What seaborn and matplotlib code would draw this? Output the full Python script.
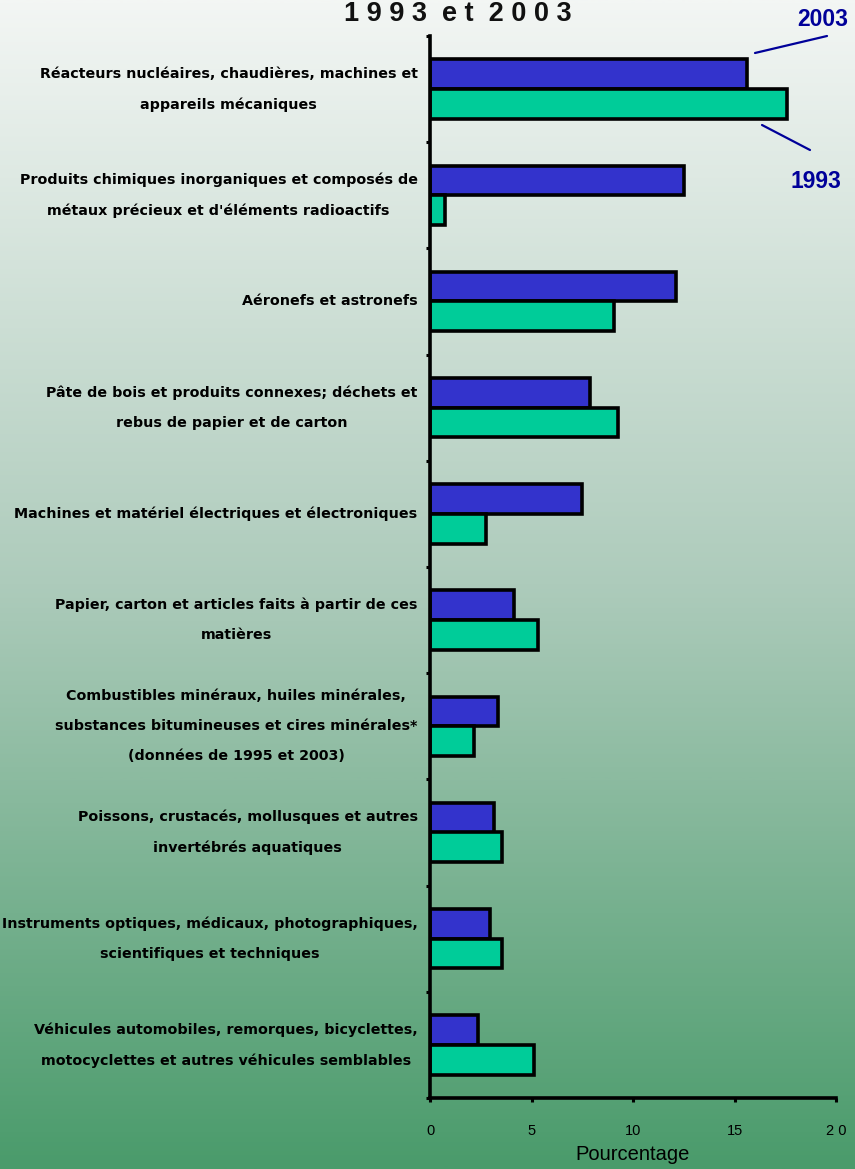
import numpy as np
import pandas as pd
import matplotlib
matplotlib.use("Agg")
import matplotlib.pyplot as plt
import seaborn as sns
from matplotlib.colors import LinearSegmentedColormap
from matplotlib.lines import Line2D

categories = [
    "Réacteurs nucléaires, chaudières, machines et\nappareils mécaniques",
    "Produits chimiques inorganiques et composés de\nmétaux précieux et d'éléments radioactifs",
    "Aéronefs et astronefs",
    "Pâte de bois et produits connexes; déchets et\nrebus de papier et de carton",
    "Machines et matériel électriques et électroniques",
    "Papier, carton et articles faits à partir de ces\nmatières",
    "Combustibles minéraux, huiles minérales,\nsubstances bitumineuses et cires minérales*\n(données de 1995 et 2003)",
    "Poissons, crustacés, mollusques et autres\ninvertébrés aquatiques",
    "Instruments optiques, médicaux, photographiques,\nscientifiques et techniques",
    "Véhicules automobiles, remorques, bicyclettes,\nmotocyclettes et autres véhicules semblables",
]
values_2003 = [15.6, 12.5, 12.1, 7.9, 7.5, 4.15, 3.35, 3.15, 2.95, 2.35]
values_1993 = [17.6, 0.75, 9.05, 9.25, 2.75, 5.3, 2.15, 3.55, 3.55, 5.1]
series = ["2003", "1993"]
xticks = [0, 5, 10, 15, 20]
xtick_labels = ["0", "5", "10", "15", "2 0"]

df = pd.DataFrame({
    "cat": categories * 2,
    "val": values_2003 + values_1993,
    "year": ["2003"] * len(categories) + ["1993"] * len(categories),
})

sns.set_theme(style="white")
plt.rcParams["font.family"] = ["DejaVu Sans"]
plt.rcParams["text.color"] = "black"
plt.rcParams["xtick.color"] = "black"
plt.rcParams["ytick.color"] = "black"
plt.rcParams["axes.labelcolor"] = "black"

W, H = 855, 1169
fig = plt.figure(figsize=(W / 100, H / 100), dpi=100)

# background gradient
bg = fig.add_axes([0, 0, 1, 1], zorder=-10)
cmap = LinearSegmentedColormap.from_list("bg", [(0, "#f3f6f4"), (0.5, "#adcbbb"), (1, "#4a9b6b")])
grad = np.linspace(0, 1, 512).reshape(-1, 1)
bg.imshow(grad, aspect="auto", cmap=cmap, extent=[0, 1, 0, 1], origin="upper")
bg.axis("off")

ax = fig.add_axes([430 / W, 1 - 1098 / H, 406 / W, (1098 - 36) / H])
ax.set_facecolor("none")

sns.barplot(data=df, y="cat", x="val", hue="year", hue_order=series,
            palette={"2003": "#3333cc", "1993": "#00cc99"},
            order=categories, orient="h", width=0.56, dodge=True,
            edgecolor="black", linewidth=2.6, ax=ax, legend=False, saturation=1)

ax.set_xlim(0, 20)
ax.set_ylim(len(categories) - 0.5, -0.5)
ax.set_xticks(xticks, xtick_labels)
ax.set_yticks(range(len(categories)))
ax.set_yticklabels(categories, fontsize=10.3, fontweight="bold", linespacing=2.45,
                   color="black", va="center")
for lab in ax.get_yticklabels():
    lab.set_multialignment("center")
ax.set_yticks(np.arange(-0.5, len(categories)), minor=True)
ax.tick_params(axis="y", which="major", length=0, pad=9)
ax.tick_params(axis="y", which="minor", left=True, length=3, width=2.2, direction="out", color="black")
ax.tick_params(axis="x", which="major", bottom=True, length=3, width=2.2, direction="out",
               color="black", pad=16, labelsize=10.5, labelcolor="black")
for lab in ax.get_xticklabels():
    lab.set_family("Liberation Sans")
ax.set_ylabel("")
ax.set_xlabel("Pourcentage", fontsize=14.5, family="Liberation Sans", labelpad=5, color="black")

for s in ["top", "right"]:
    ax.spines[s].set_visible(False)
for s in ["left", "bottom"]:
    ax.spines[s].set_linewidth(2.6)
    ax.spines[s].set_color("black")

# title
fig.text(458 / W, 1 - 14 / H, "1 9 9 3  e t  2 0 0 3", ha="center", va="center",
         fontsize=19.5, fontweight="bold", family="Liberation Sans", color="#111111")

# series annotations
navy = "#000099"
fig.text(823 / W, 1 - 20 / H, "2003", ha="center", va="center", fontsize=16.5,
         fontweight="bold", family="Liberation Sans", color=navy)
fig.text(816 / W, 1 - 181 / H, "1993", ha="center", va="center", fontsize=16.5,
         fontweight="bold", family="Liberation Sans", color=navy)
fig.add_artist(Line2D([755 / W, 827 / W], [1 - 53 / H, 1 - 36 / H], color=navy, lw=1.6))
fig.add_artist(Line2D([762 / W, 810 / W], [1 - 125 / H, 1 - 150 / H], color=navy, lw=1.6))

fig.savefig("out.png", dpi=100)
